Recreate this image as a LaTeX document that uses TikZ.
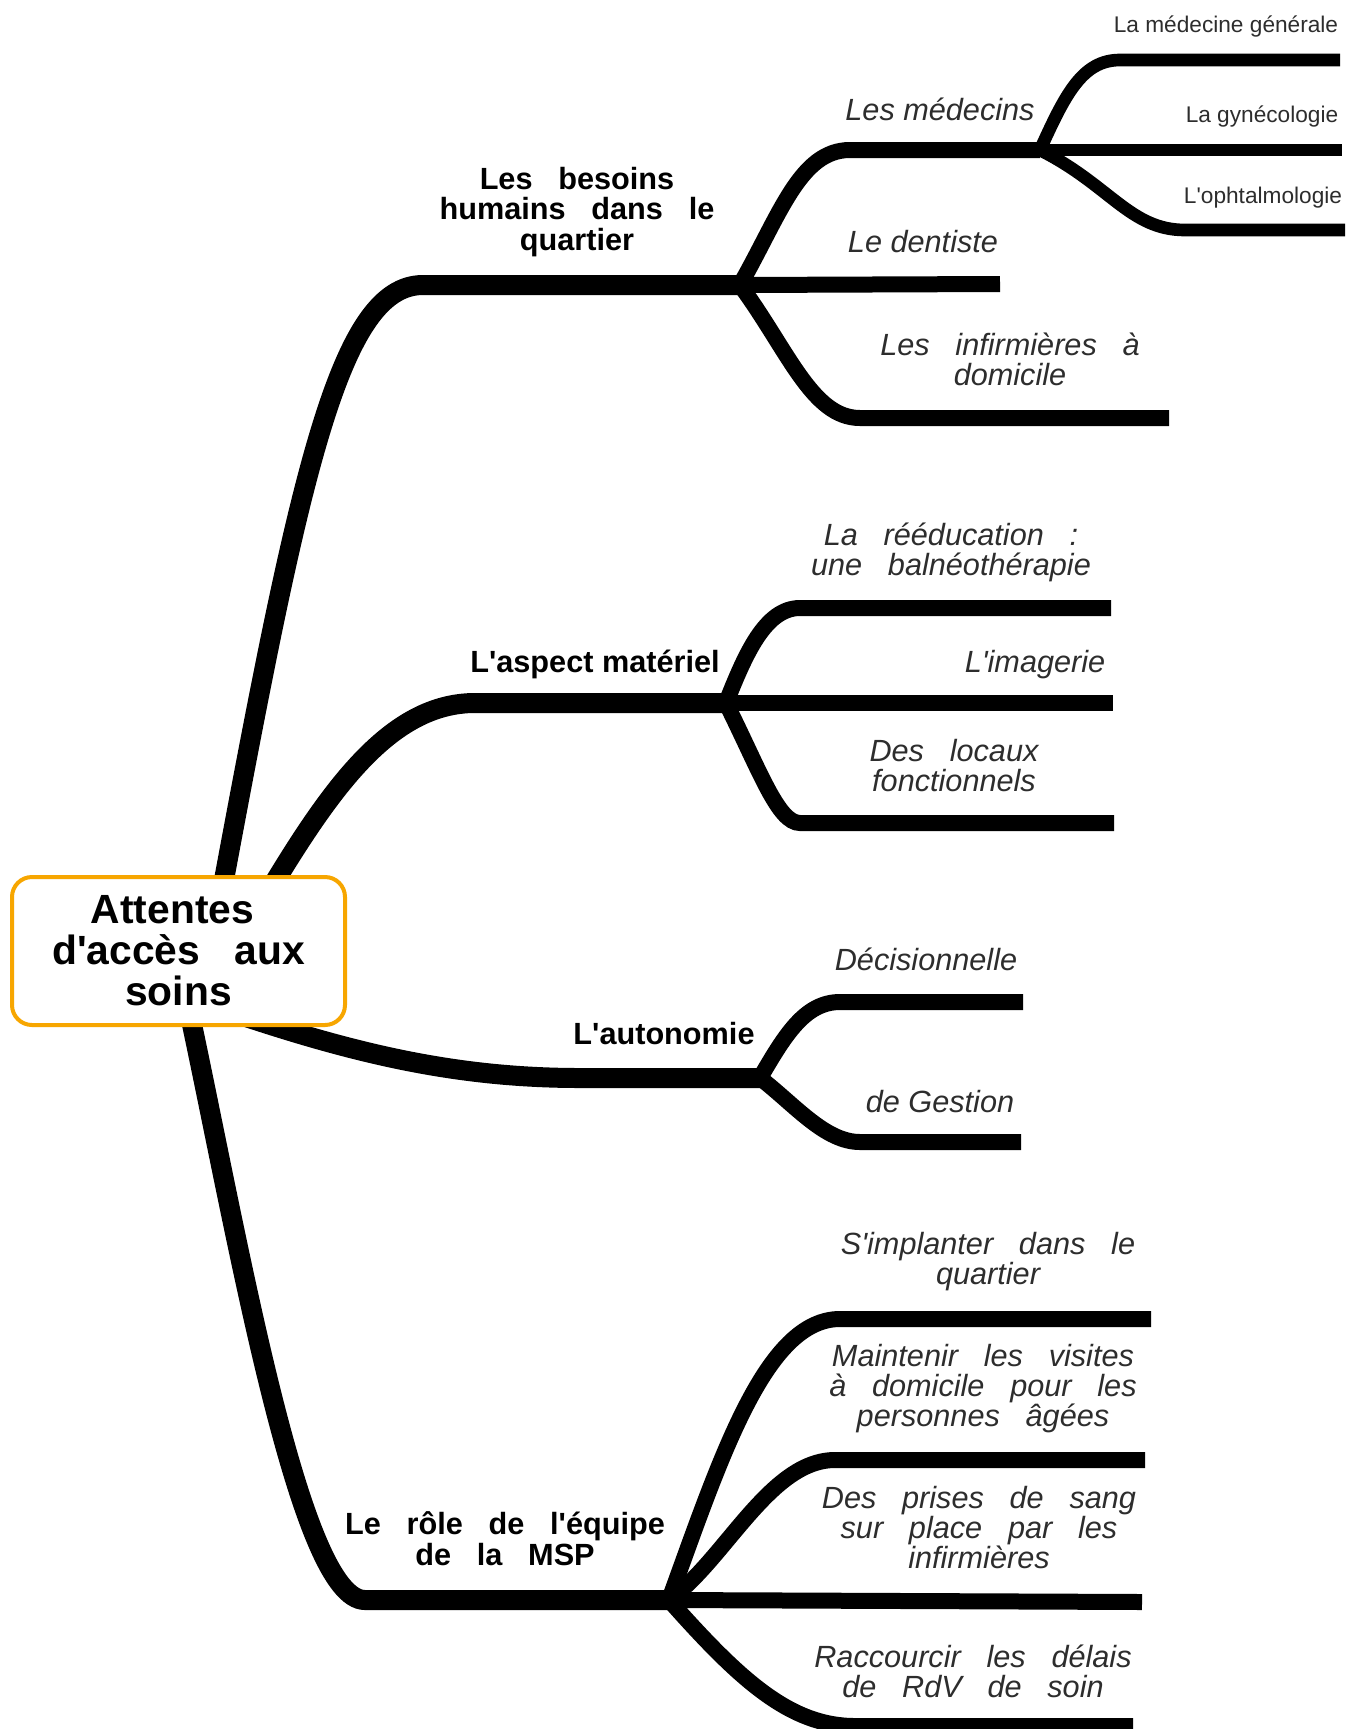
\documentclass[tikz,border=0pt]{standalone}
\usepackage{fontspec}
\newfontfamily\labf{Liberation Sans}
\newcommand\wsp{\hspace{0.84em}}
\definecolor{boxorange}{RGB}{247,166,0}
\definecolor{labgray}{RGB}{45,45,45}
\begin{document}
\begin{tikzpicture}[x=0.75pt,y=-0.75pt,
  trunk/.style={line width=15pt},
  twig/.style={line width=12pt},
  leaf/.style={line width=9.5pt},
  rootbox/.style={draw=boxorange, line width=3pt, fill=white, rounded corners=15pt,
    minimum width=249.75pt, minimum height=111pt, inner sep=0pt, align=center,
    font=\labf\bfseries\fontsize{30.6}{30.75}\selectfont},
  blab/.style={inner sep=0pt, align=center, font=\labf\bfseries\fontsize{23}{23}\selectfont},
  ilab/.style={inner sep=0pt, align=center, text=labgray, font=\labf\itshape\fontsize{23}{22.5}\selectfont},
  slab/.style={inner sep=0pt, text=labgray, font=\labf\fontsize{17}{17}\selectfont}]
\useasboundingbox (0,0) rectangle (1359,1729);
\clip (0,0) rectangle (1359,1729);

% ---------- coordinates ----------
\coordinate (c1s) at (221,896);
\coordinate (f1) at (740,285);
\coordinate (f11) at (1040,150);
\coordinate (e111) at (1340,60);
\coordinate (e112) at (1342,150);
\coordinate (e113) at (1345,230);
\coordinate (e12) at (1000,284);
\coordinate (e13) at (1169,418);

\coordinate (c2s) at (268,893);
\coordinate (f2) at (726,703);
\coordinate (e21) at (1111,608);
\coordinate (e22) at (1113,703);
\coordinate (e23) at (1114,823);

\coordinate (c3s) at (240,1015);
\coordinate (f3) at (760,1078);
\coordinate (e31) at (1023,1002);
\coordinate (e32) at (1021,1142);

\coordinate (c4s) at (190,1015);
\coordinate (f4) at (669,1600);
\coordinate (e41) at (1151,1319);
\coordinate (e42) at (1145,1460);
\coordinate (e43) at (1142,1602);
\coordinate (e44) at (1133,1726);

% ---------- branch 1 ----------
\draw[trunk] (c1s) .. controls (300,470) and (340,285) .. (423,285) -- (f1);
\draw[twig] (f1) .. controls (780,215) and (800,150) .. (850,150) -- (f11);
\draw[leaf] (f11) .. controls (1065,95) and (1082,60) .. (1120,60) -- (e111);
\draw[leaf] (f11) -- (e112);
\draw[leaf] (f11) .. controls (1110,185) and (1130,230) .. (1185,230) -- (e113);
\draw[twig] (f1) -- (e12);
\draw[twig] (f1) .. controls (788,350) and (812,418) .. (860,418) -- (e13);

% ---------- branch 2 ----------
\draw[trunk] (c2s) .. controls (330,790) and (390,703) .. (475,703) -- (f2);
\draw[twig] (f2) .. controls (745,655) and (765,608) .. (800,608) -- (e21);
\draw[twig] (f2) -- (e22);
\draw[twig] (f2) .. controls (760,771) and (778,823) .. (800,823) -- (e23);

% ---------- branch 3 ----------
\draw[trunk] (c3s) .. controls (360,1055) and (460,1078) .. (580,1078) -- (f3);
\draw[twig] (f3) .. controls (785,1035) and (805,1002) .. (840,1002) -- (e31);
\draw[twig] (f3) .. controls (795,1105) and (825,1142) .. (860,1142) -- (e32);

% ---------- branch 4 ----------
\draw[trunk] (c4s) .. controls (240,1250) and (300,1600) .. (365,1600) -- (f4);
\draw[twig] (f4) .. controls (720,1460) and (765,1319) .. (840,1319) -- (e41);
\draw[twig] (f4) .. controls (725,1560) and (770,1460) .. (835,1460) -- (e42);
\draw[twig] (f4) -- (e43);
\draw[twig] (f4) .. controls (740,1680) and (790,1726) .. (855,1726) -- (e44);

% ---------- root ----------
\node[rootbox] (root) at (178.5,951) {Attentes\hspace*{0.3em}\\d'accès\wsp aux\hspace*{0.3em}\\soins};

% ---------- labels ----------
\node[blab] (lb1) at (577,212) {Les\wsp besoins\\humains\wsp dans\wsp le\\quartier};
\node[ilab, anchor=base] (lb11) at (940,120) {Les médecins};
\node[slab, anchor=base] (lb111) at (1226,32) {La médecine générale};
\node[slab, anchor=base] (lb112) at (1262,122) {La gynécologie};
\node[slab, anchor=base] (lb113) at (1263,203) {L'ophtalmologie};
\node[ilab, anchor=base] (lb12) at (923,252) {Le dentiste};
\node[ilab] (lb13) at (1010,359) {Les\wsp infirmières\wsp à\\domicile};

\node[blab, anchor=base] (lb2) at (595,672) {L'aspect matériel};
\node[ilab] (lb21) at (951,552) {La\wsp rééducation\wsp :\\une\wsp balnéothérapie};
\node[ilab, anchor=base] (lb22) at (1035,672) {L'imagerie};
\node[ilab] (lb23) at (954,766) {Des\wsp locaux\\fonctionnels};

\node[blab, anchor=base] (lb3) at (664,1044) {L'autonomie};
\node[ilab, anchor=base] (lb31) at (926,970) {Décisionnelle};
\node[ilab, anchor=base] (lb32) at (940,1112) {de Gestion};

\node[blab] (lb4) at (505,1539) {Le\wsp rôle\wsp de\wsp l'équipe\\de\wsp la\wsp MSP};
\node[ilab] (lb41) at (988,1262) {S'implanter\wsp dans\wsp le\\quartier};
\node[ilab] (lb42) at (983,1389) {Maintenir\wsp les\wsp visites\\à\wsp domicile\wsp pour\wsp les\\personnes\wsp âgées};
\node[ilab] (lb43) at (979,1528) {Des\wsp prises\wsp de\wsp sang\\sur\wsp place\wsp par\wsp les\\infirmières};
\node[ilab] (lb44) at (973,1671) {Raccourcir\wsp les\wsp délais\\de\wsp RdV\wsp de\wsp soin};
\end{tikzpicture}
\end{document}
